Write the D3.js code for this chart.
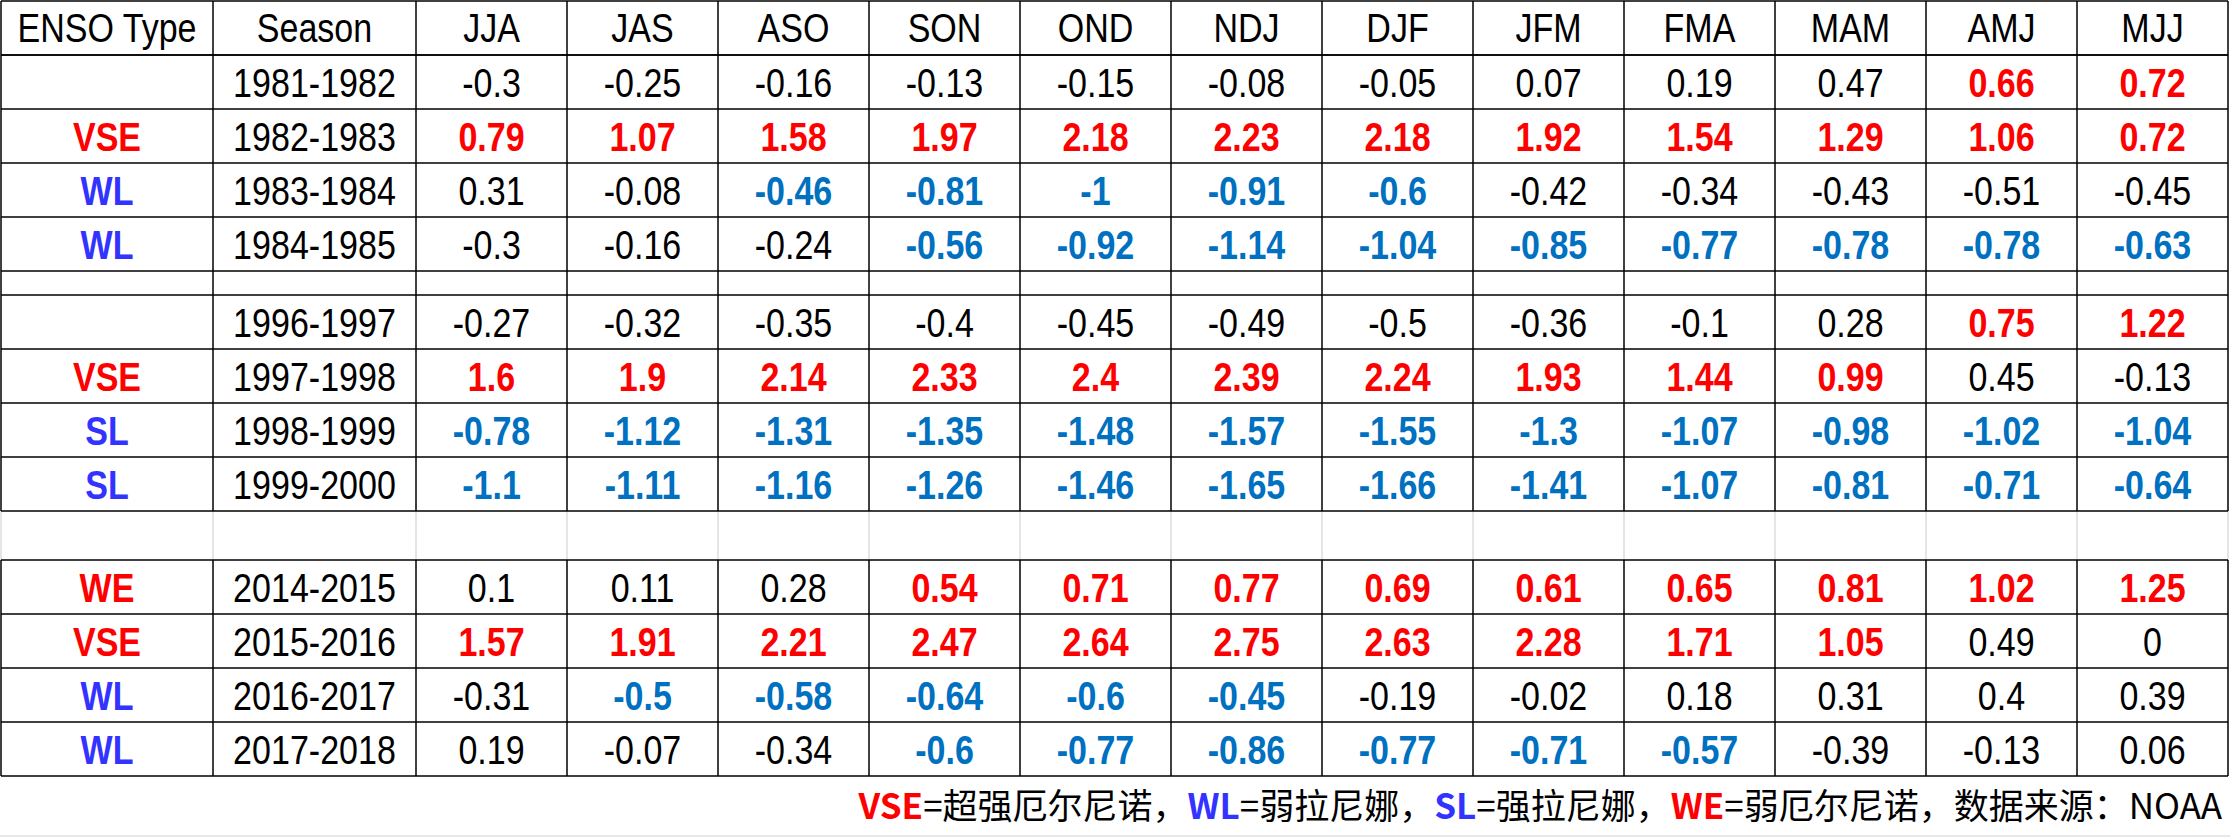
<!DOCTYPE html>
<html><head><meta charset="utf-8">
<script src="https://cdn.jsdelivr.net/npm/d3@7"></script>
<style>body{margin:0;background:#fff}svg{display:block}</style>
</head><body><svg id="chart" width="2230" height="838"></svg>
<script>
// table data
const seasons = ["JJA","JAS","ASO","SON","OND","NDJ","DJF","JFM","FMA","MAM","AMJ","MJJ"];
const years = ["1981-1982","1982-1983","1983-1984","1984-1985","1996-1997","1997-1998","1998-1999","1999-2000","2014-2015","2015-2016","2016-2017","2017-2018"];
const ensoTypes = ["","VSE","WL","WL","","VSE","SL","SL","WE","VSE","WL","WL"];
const values = [
  [-0.3,-0.25,-0.16,-0.13,-0.15,-0.08,-0.05,0.07,0.19,0.47,0.66,0.72],
  [0.79,1.07,1.58,1.97,2.18,2.23,2.18,1.92,1.54,1.29,1.06,0.72],
  [0.31,-0.08,-0.46,-0.81,-1,-0.91,-0.6,-0.42,-0.34,-0.43,-0.51,-0.45],
  [-0.3,-0.16,-0.24,-0.56,-0.92,-1.14,-1.04,-0.85,-0.77,-0.78,-0.78,-0.63],
  [-0.27,-0.32,-0.35,-0.4,-0.45,-0.49,-0.5,-0.36,-0.1,0.28,0.75,1.22],
  [1.6,1.9,2.14,2.33,2.4,2.39,2.24,1.93,1.44,0.99,0.45,-0.13],
  [-0.78,-1.12,-1.31,-1.35,-1.48,-1.57,-1.55,-1.3,-1.07,-0.98,-1.02,-1.04],
  [-1.1,-1.11,-1.16,-1.26,-1.46,-1.65,-1.66,-1.41,-1.07,-0.81,-0.71,-0.64],
  [0.1,0.11,0.28,0.54,0.71,0.77,0.69,0.61,0.65,0.81,1.02,1.25],
  [1.57,1.91,2.21,2.47,2.64,2.75,2.63,2.28,1.71,1.05,0.49,0],
  [-0.31,-0.5,-0.58,-0.64,-0.6,-0.45,-0.19,-0.02,0.18,0.31,0.4,0.39],
  [0.19,-0.07,-0.34,-0.6,-0.77,-0.86,-0.77,-0.71,-0.57,-0.39,-0.13,0.06]
];
// episode marks: r = warm episode, b = cold episode, k = neutral
const marks = [
  "kkkkkkkkkkrr","rrrrrrrrrrrr","kkbbbbbkkkkk","kkkbbbbbbbbb",
  "kkkkkkkkkkrr","rrrrrrrrrrkk","bbbbbbbbbbbb","bbbbbbbbbbbb",
  "kkkrrrrrrrrr","rrrrrrrrrrkk","kbbbbbkkkkkk","kkkbbbbbbkkk"
];
const footnote = [["VSE","#ff0000"],["=超强厄尔尼诺，",null],["WL","#3333ff"],["=弱拉尼娜，",null],
  ["SL","#3333ff"],["=强拉尼娜，",null],["WE","#ff0000"],["=弱厄尔尼诺，数据来源：NOAA",null]];

const svg = d3.select("#chart");
const font = "'Liberation Sans', 'Noto Sans', sans-serif";
const markColor = {r:"#ff0000", b:"#0070c0", k:"#000"};
const typeColor = {VSE:"#ff0000", WE:"#ff0000", WL:"#3333ff", SL:"#3333ff"};

const x = d3.scaleBand().domain(seasons).range([416, 2228]);
const colEdges = [1, 213, 416].concat(seasons.map(s => x(s) + x.bandwidth()));

// row layout: header, 4 rows, thin gap, 4 rows, blank gap, 4 rows
const rowH = 54;
const rowTop = [];
let yy = 1 + rowH;
years.forEach((y, i) => {
  if (i === 4) yy += 24;
  if (i === 8) yy += 49;
  rowTop.push(yy);
  yy += rowH;
});

const g = svg.append("g");
function hline(y, x0, x1, c) { g.append("line").attr("x1", x0).attr("x2", x1).attr("y1", y).attr("y2", y).attr("stroke", c).attr("stroke-width", 1.5); }
function vline(xp, y0, y1, c) { g.append("line").attr("x1", xp).attr("x2", xp).attr("y1", y0).attr("y2", y1).attr("stroke", c).attr("stroke-width", 1.5); }

// faint blank gap row between blocks 2 and 3
const gapTop = rowTop[7] + rowH, gapBot = rowTop[8];
colEdges.forEach(c => vline(c, gapTop, gapBot, "#dcdcdc"));
hline(836, 0, 2230, "#e0e0e0");

// block borders
const blocks = [[1, rowTop[7] + rowH], [rowTop[8], rowTop[11] + rowH]];
blocks.forEach(([y0, y1]) => colEdges.forEach(c => vline(c, y0, y1, "#000")));
const hs = [1, rowH + 1, rowTop[4] - 24];
rowTop.forEach(t => { hs.push(t); hs.push(t + rowH); });
Array.from(new Set(hs)).forEach(h => hline(h, 1, 2228, "#000"));
hline(rowH + 1, 1, 2228, "#000");

function cx(i) { return (colEdges[i] + colEdges[i + 1]) / 2; }

// cell text: narrow, tall look
function cell(sel, xp, yp) {
  return sel.append("text").attr("transform", `translate(${xp},${yp}) scale(0.92,1.08)`)
    .attr("text-anchor", "middle").attr("font-family", font).attr("font-size", 37);
}

// header
const header = ["ENSO Type", "Season"].concat(seasons);
header.forEach((d, i) => cell(g, cx(i), rowH / 2 + 15).attr("fill", "#000").text(d));

// rows
years.forEach((yr, r) => {
  const ty = rowTop[r] + rowH / 2 + 15;
  const row = g.append("g");
  cell(row, cx(0), ty).attr("font-weight", "bold")
    .attr("fill", typeColor[ensoTypes[r]] || "#000").text(ensoTypes[r]);
  cell(row, cx(1), ty).text(yr);
  values[r].forEach((d, i) => {
    const m = marks[r][i];
    cell(row, x(seasons[i]) + x.bandwidth() / 2, ty)
      .attr("font-weight", m === "k" ? "normal" : "bold")
      .attr("fill", markColor[m]).text(String(d));
  });
});

// footnote
const ft = g.append("text").attr("x", 2222).attr("y", 819).attr("text-anchor", "end")
  .attr("font-family", "'Noto Sans CJK SC', 'Noto Sans', sans-serif").attr("font-size", 35);
footnote.forEach(([t, c]) => ft.append("tspan").attr("fill", c || "#000")
  .attr("font-weight", c ? "bold" : "normal").text(t));
</script></body></html>
